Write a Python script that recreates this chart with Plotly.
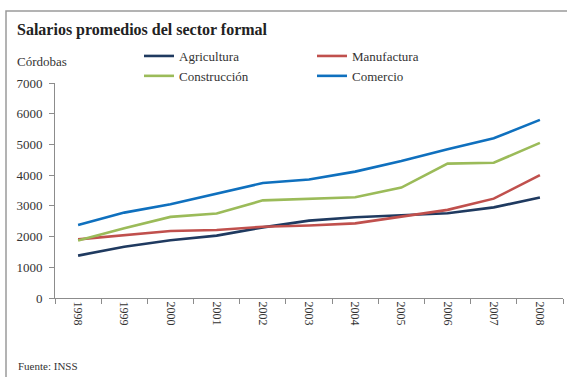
import plotly.graph_objects as go

years = ["1998", "1999", "2000", "2001", "2002", "2003", "2004", "2005", "2006", "2007", "2008"]
agricultura = [1380, 1670, 1880, 2030, 2300, 2520, 2630, 2700, 2760, 2950, 3270]
manufactura = [1910, 2050, 2180, 2215, 2320, 2360, 2430, 2650, 2870, 3235, 4000]
construccion = [1870, 2270, 2640, 2750, 3180, 3240, 3280, 3595, 4375, 4405, 5050]
comercio = [2380, 2780, 3050, 3390, 3745, 3860, 4115, 4460, 4845, 5200, 5800]

y_ticks = [0, 1000, 2000, 3000, 4000, 5000, 6000, 7000]

series = [
    ("Agricultura", agricultura, "#1F3A60", "legend"),
    ("Manufactura", manufactura, "#C0504D", "legend2"),
    ("Construcción", construccion, "#9BBB59", "legend"),
    ("Comercio", comercio, "#0F70BE", "legend2"),
]

SERIF = "Liberation Serif, Times New Roman, serif"

fig = go.Figure()
for name, vals, color, lg in series:
    fig.add_trace(go.Scatter(
        x=years, y=vals, name=name, mode="lines",
        line=dict(color=color, width=2.6),
        legend=lg,
    ))

W, H = 567, 377
L, R, T, B = 55, 4, 83, 79
pw, ph = W - L - R, H - T - B


def px_x(x):
    return (x - L) / pw


def px_y(y):
    return (H - B - y) / ph


legend_style = dict(
    orientation="v", xanchor="left", yanchor="top",
    font=dict(family=SERIF, size=13, color="#333333"),
    bgcolor="rgba(0,0,0,0)", itemwidth=30, tracegroupgap=0,
)

fig.update_layout(
    width=W, height=H,
    margin=dict(l=L, r=R, t=T, b=B),
    paper_bgcolor="white", plot_bgcolor="white",
    font=dict(family=SERIF, color="#333333"),
    showlegend=True,
    legend=dict(x=px_x(139), y=px_y(41), **legend_style),
    legend2=dict(x=px_x(312), y=px_y(41), **legend_style),
    xaxis=dict(
        type="category", showgrid=False, zeroline=False,
        showline=True, linecolor="#8c8c8c", linewidth=1,
        ticks="outside", tickson="boundaries", ticklen=5, tickcolor="#8c8c8c",
        tickangle=90, tickfont=dict(family=SERIF, size=12, color="#333333"),
        range=[-0.5, len(years) - 0.5],
    ),
    yaxis=dict(
        range=[0, 7000], tickvals=y_ticks, showgrid=False, zeroline=False,
        showline=True, linecolor="#8c8c8c", linewidth=1,
        ticks="outside", ticklen=5, tickcolor="#8c8c8c",
        ticklabelstandoff=4,
        tickfont=dict(family=SERIF, size=13, color="#333333"),
    ),
    shapes=[
        dict(type="rect", xref="paper", yref="paper",
             x0=px_x(6), x1=px_x(620), y0=px_y(11), y1=px_y(420),
             line=dict(color="#9a9a9a", width=1.5), layer="below"),
    ],
    annotations=[
        dict(text="<b>Salarios promedios del sector formal</b>", xref="paper", yref="paper",
             x=px_x(15), y=px_y(30), xanchor="left", yanchor="middle", showarrow=False,
             font=dict(family=SERIF, size=16, color="#222222")),
        dict(text="Córdobas", xref="paper", yref="paper",
             x=px_x(15), y=px_y(61), xanchor="left", yanchor="middle", showarrow=False,
             font=dict(family=SERIF, size=13, color="#333333")),
        dict(text="Fuente: INSS", xref="paper", yref="paper",
             x=px_x(16), y=px_y(366), xanchor="left", yanchor="middle", showarrow=False,
             font=dict(family=SERIF, size=11, color="#333333")),
    ],
)

fig.write_html("out.html")
